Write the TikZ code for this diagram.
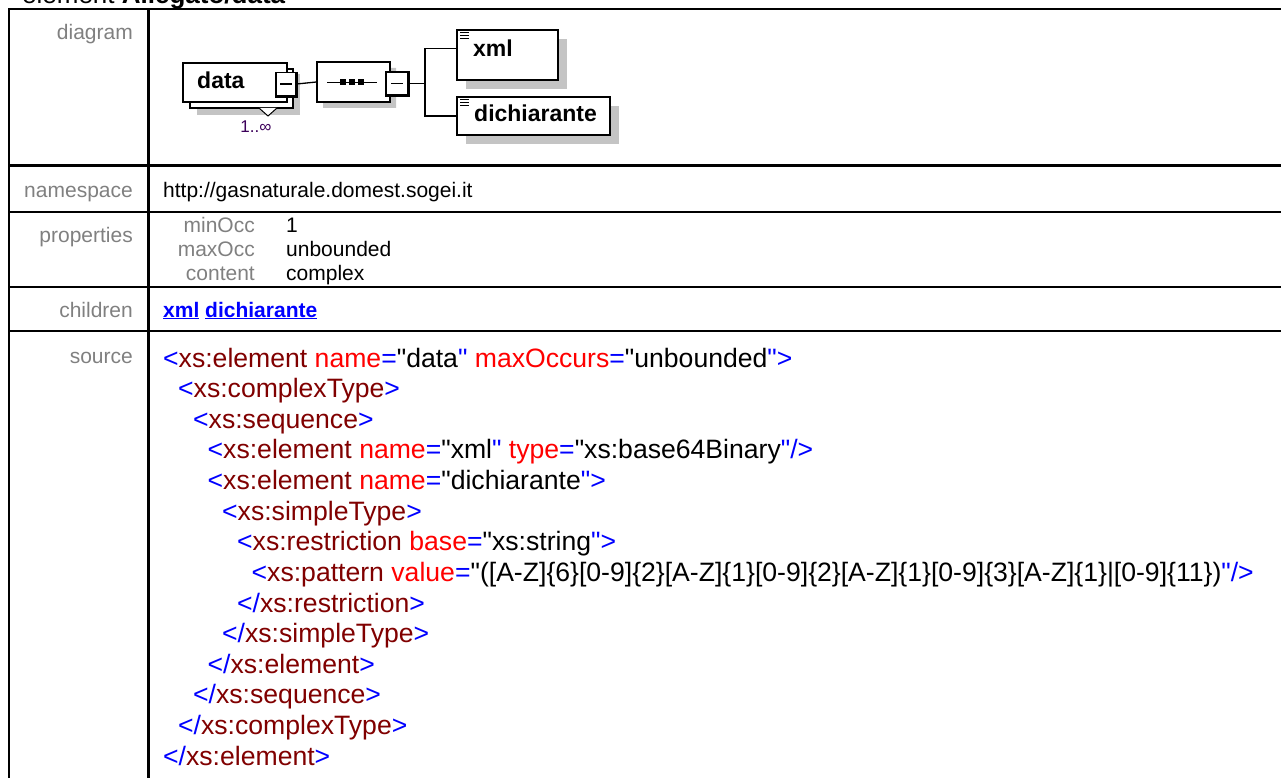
\documentclass[tikz,border=0pt]{standalone}
\usepackage{fontspec}
\setmainfont{Liberation Sans}
\newfontfamily\codefont{Liberation Sans}
\usetikzlibrary{shapes.misc,calc}
\definecolor{labelgray}{RGB}{128,128,128}
\definecolor{tagblue}{RGB}{0,0,255}
\definecolor{elemred}{RGB}{128,0,0}
\definecolor{attrred}{RGB}{255,0,0}
\definecolor{shadowgray}{RGB}{196,196,196}
\definecolor{occpurple}{RGB}{60,0,90}
\newcommand{\srctag}[1]{\textcolor{tagblue}{#1}}
\newcommand{\srcelem}[1]{\textcolor{elemred}{#1}}
\newcommand{\srcatt}[2]{ \textcolor{attrred}{#1}\srctag{=}"#2\srctag{"}}

\begin{document}
\begin{tikzpicture}[x=1pt,y=-1pt,
        grid/.style={line width=2.4pt},
        rowlabel/.style={anchor=base east, inner sep=0pt, text=labelgray, font=\fontsize{21}{25}\selectfont},
        cell/.style={anchor=base west, inner sep=0pt, font=\fontsize{21}{25}\selectfont},
        codeline/.style={anchor=base west, inner sep=0pt, font=\codefont\fontsize{26.6}{30}\selectfont},
        elembox/.style={draw, line width=1.3pt, fill=white, inner sep=0pt},
        boxshadow/.style={fill=shadowgray, draw=none, inner sep=0pt},
        boxtext/.style={anchor=base west, inner sep=0pt, font=\bfseries\fontsize{23}{27}\selectfont},
        octo/.style={chamfered rectangle, chamfered rectangle xsep=10pt, chamfered rectangle ysep=10pt},
        minusbox/.style={draw, line width=1.3pt, fill=white, inner sep=0pt, minimum width=20, minimum height=23},
        conn/.style={line width=1.3pt}
    ]
        \useasboundingbox (0,0) rectangle (1281,778);

        % Title (cut at the top)
        \node[anchor=base west, inner sep=0pt, font=\fontsize{26}{30}\selectfont] (title) at (22,3.5) {element \textbf{Allegato/data}};

        % Table grid
        \draw[grid] (9,790) -- (9,9) -- (1295,9);
        \draw[grid] (148.5,9) -- (148.5,790);
        \draw[grid] (9,165.5) -- (1295,165.5);
        \draw[grid] (9,212) -- (1295,212);
        \draw[grid] (9,287) -- (1295,287);
        \draw[grid] (9,331) -- (1295,331);

        % Row labels
        \node[rowlabel] (ldiagram) at (133,40) {diagram};
        \node[rowlabel] (lnamespace) at (133,197) {namespace};
        \node[rowlabel] (lproperties) at (133,242) {properties};
        \node[rowlabel] (lchildren) at (133,317) {children};
        \node[rowlabel] (lsource) at (133,363) {source};

        % Namespace
        \node[cell] (ns) at (163,197) {http://gasnaturale.domest.sogei.it};

        % Properties
        \node[rowlabel] (pmin) at (255,232) {minOcc};
        \node[rowlabel] (pmax) at (255,256) {maxOcc};
        \node[rowlabel] (pcont) at (255,280) {content};
        \node[cell] (vmin) at (286,232) {1};
        \node[cell] (vmax) at (286,256) {unbounded};
        \node[cell] (vcont) at (286,280) {complex};

        % Children
        \node[cell, text=tagblue, font=\bfseries\fontsize{21}{25}\selectfont] (kids) at (163,317) {\underline{xml} \underline{dichiarante}};

        % Diagram: data element (repeating)
        \fill[shadowgray] (197,74) rectangle (300,115);
        \draw[line width=1.3pt, fill=white] (190,69) rectangle (293,108);
        \node[elembox, minimum width=104, minimum height=39] (data) at (235,82.5) {};
        \node[boxtext] (datatxt) at (197,89) {data};
        \draw[line width=1pt, fill=white] (259,108) -- (268,116) -- (277,108);
        \node[anchor=base, inner sep=0pt, text=occpurple, font=\fontsize{17}{20}\selectfont] (occ) at (256,133) {1..∞};
        \node[minusbox] (datamin) at (286,84) {};
        \draw[line width=3pt] (datamin.north east) -- (datamin.south east) -- (datamin.south west);
        \draw[line width=1.3pt] ($(datamin.center)+(-6,0)$) -- ($(datamin.center)+(6,0)$);

        % Diagram: sequence
        \node[octo, boxshadow, minimum width=73, minimum height=40] (seqshadow) at (359.5,88) {};
        \node[octo, elembox, minimum width=73, minimum height=40] (seq) at (353.5,82) {};
        \draw[line width=1.3pt] (327,82.5) -- (377,82.5);
        \foreach \sx in {343,352,361}
            \fill (\sx,82.5) +(-3,-3) rectangle +(3,3);
        \node[minusbox, minimum width=22] (seqmin) at (397,83.5) {};
        \draw[line width=3pt] (seqmin.north east) -- (seqmin.south east) -- (seqmin.south west);
        \draw[line width=1.3pt] ($(seqmin.center)+(-6,0)$) -- ($(seqmin.center)+(6,0)$);
        \draw[conn] (datamin.east) -- (seq.west);

        % Diagram: children
        \node[boxshadow, minimum width=101, minimum height=50] (xmlshadow) at (516.5,64) {};
        \node[elembox, minimum width=101, minimum height=50] (xml) at (507.5,55) {};
        \node[boxtext] (xmltxt) at (473,57) {xml};
        \node[boxshadow, minimum width=153, minimum height=38] (dichshadow) at (542.5,125) {};
        \node[elembox, minimum width=153, minimum height=38] (dich) at (533.5,116) {};
        \node[boxtext] (dichtxt) at (474,122) {dichiarante};
        \foreach \k in {3,6,9} {
            \draw[line width=1pt] ([shift={(4,\k)}]xml.north west) -- ++(9,0);
            \draw[line width=1pt] ([shift={(4,\k)}]dich.north west) -- ++(9,0);
        }
        \coordinate (fork) at (425,83.5);
        \draw[conn] (seqmin.east) -- (fork);
        \draw[conn] (fork) |- (xml.west |- xmltxt);
        \draw[conn] (fork) |- (dich.west);

        % Source
        \node[codeline] (c1) at (163,367) {\srctag{<}\srcelem{xs:element}\srcatt{name}{data}\srcatt{maxOccurs}{unbounded}\srctag{>}};
        \node[codeline] (c2) at (178,397.6) {\srctag{<}\srcelem{xs:complexType}\srctag{>}};
        \node[codeline] (c3) at (193,428.2) {\srctag{<}\srcelem{xs:sequence}\srctag{>}};
        \node[codeline] (c4) at (207.5,458.9) {\srctag{<}\srcelem{xs:element}\srcatt{name}{xml}\srcatt{type}{xs:base64Binary}\srctag{/>}};
        \node[codeline] (c5) at (207.5,489.5) {\srctag{<}\srcelem{xs:element}\srcatt{name}{dichiarante}\srctag{>}};
        \node[codeline] (c6) at (222,520.1) {\srctag{<}\srcelem{xs:simpleType}\srctag{>}};
        \node[codeline] (c7) at (237,550.7) {\srctag{<}\srcelem{xs:restriction}\srcatt{base}{xs:string}\srctag{>}};
        \node[codeline] (c8) at (251.5,581.3) {\srctag{<}\srcelem{xs:pattern}\srcatt{value}{([A-Z]\{6\}[0-9]\{2\}[A-Z]\{1\}[0-9]\{2\}[A-Z]\{1\}[0-9]\{3\}[A-Z]\{1\}|[0-9]\{11\})}\srctag{/>}};
        \node[codeline] (c9) at (237,612) {\srctag{</}\srcelem{xs:restriction}\srctag{>}};
        \node[codeline] (c10) at (222,642.6) {\srctag{</}\srcelem{xs:simpleType}\srctag{>}};
        \node[codeline] (c11) at (207.5,673.2) {\srctag{</}\srcelem{xs:element}\srctag{>}};
        \node[codeline] (c12) at (193,703.8) {\srctag{</}\srcelem{xs:sequence}\srctag{>}};
        \node[codeline] (c13) at (178,734.4) {\srctag{</}\srcelem{xs:complexType}\srctag{>}};
        \node[codeline] (c14) at (163,765) {\srctag{</}\srcelem{xs:element}\srctag{>}};

    \end{tikzpicture}
\end{document}
